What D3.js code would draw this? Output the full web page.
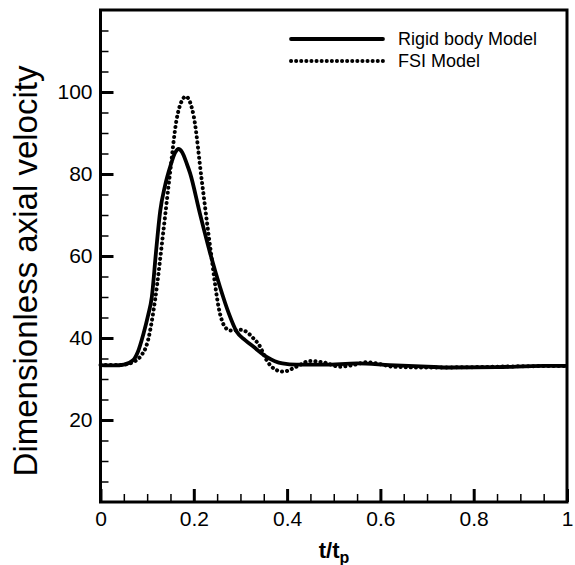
<!DOCTYPE html>
<html>
<head>
<meta charset="utf-8">
<script src="https://cdn.jsdelivr.net/npm/d3@7"></script>
<style>
body { margin: 0; background: #fff; }
text { font-family: "Liberation Sans", Arial, sans-serif; fill: #000; }
</style>
</head>
<body>
<div id="chart"></div>
<script>
// Rigid body model
var rigid_t = [0, 0.03, 0.05, 0.07, 0.08, 0.092, 0.102, 0.11, 0.119, 0.128, 0.138, 0.15, 0.16, 0.167,
               0.175, 0.185, 0.192, 0.213, 0.235, 0.256, 0.275, 0.292, 0.31, 0.3275, 0.356, 0.39,
               0.42, 0.48, 0.55, 0.62, 0.7, 0.75, 0.85, 0.95, 1.0];
var rigid_v = [33.4, 33.3, 33.5, 34.6, 36.6, 41, 45.5, 50, 61, 71, 77, 82, 85.2, 86.1,
               85.3, 82.5, 80.2, 70.4, 60.7, 52.5, 46, 41.5, 39.5, 37.9, 35.4, 33.8,
               33.5, 33.5, 33.8, 33.4, 33.0, 32.8, 32.9, 33.2, 33.2];

// FSI model
var fsi_t = [0, 0.04, 0.063, 0.075, 0.085, 0.102, 0.117, 0.135, 0.149, 0.163, 0.175, 0.183, 0.192, 0.2,
             0.217, 0.235, 0.256, 0.268, 0.28, 0.299, 0.313, 0.327, 0.34, 0.356, 0.375, 0.392, 0.42,
             0.449, 0.48, 0.513, 0.545, 0.571, 0.6, 0.627, 0.7, 0.8, 0.9, 1.0];
var fsi_v = [33.4, 33.4, 33.8, 34.4, 35.4, 39.5, 49.3, 66.3, 80.2, 93.2, 98, 98.9, 97.5, 94,
             78.5, 62.3, 46, 42.5, 41.8, 42, 41.5, 40, 38.3, 34.6, 32.3, 31.8, 33,
             34.4, 34, 33, 33.5, 34.1, 33.6, 33, 32.8, 32.9, 33.1, 33.2];

var series_names = ['Rigid body Model', 'FSI Model'];
var x_ticks = [0, 0.2, 0.4, 0.6, 0.8, 1];
var x_tick_labels = ['0', '0.2', '0.4', '0.6', '0.8', '1'];
var y_ticks = [20, 40, 60, 80, 100];
var y_tick_labels = ['20', '40', '60', '80', '100'];

var chart_width = 575;
var chart_height = 565;
var plot_left = 100.5, plot_right = 567, plot_top = 10, plot_bottom = 502;
var dots = '0.1 5';

var svg = d3.select('#chart')
    .append('svg')
    .attr('width', chart_width)
    .attr('height', chart_height);

var scale_x = d3.scaleLinear().domain([0, 1]).range([plot_left, plot_right]);
var scale_y = d3.scaleLinear().domain([0, 120]).range([plot_bottom, plot_top]);

// minor ticks
var x_minor = d3.range(0.05, 1, 0.05).filter(function(d) {
    return Math.abs(d * 5 - Math.round(d * 5)) > 1e-6;
});
var y_minor = d3.range(5, 120, 5).filter(function(d) { return d % 20 !== 0; });

svg.append('g')
    .attr('class', 'x-minor')
    .attr('transform', 'translate(0,' + plot_bottom + ')')
    .call(d3.axisBottom(scale_x).tickValues(x_minor).tickSize(-8).tickFormat(''));

svg.append('g')
    .attr('class', 'y-minor')
    .attr('transform', 'translate(' + plot_left + ',0)')
    .call(d3.axisLeft(scale_y).tickValues(y_minor).tickSize(-8).tickFormat(''));

// major ticks
svg.append('g')
    .attr('class', 'x-axis')
    .attr('transform', 'translate(0,' + plot_bottom + ')')
    .call(d3.axisBottom(scale_x)
        .tickValues(x_ticks)
        .tickSize(-13)
        .tickPadding(9)
        .tickFormat(function(d, i) { return x_tick_labels[i]; }));

svg.append('g')
    .attr('class', 'y-axis')
    .attr('transform', 'translate(' + plot_left + ',0)')
    .call(d3.axisLeft(scale_y)
        .tickValues(y_ticks)
        .tickSize(-13)
        .tickPadding(8)
        .tickFormat(function(d, i) { return y_tick_labels[i]; }));

svg.selectAll('.domain').remove();
svg.selectAll('.x-minor line, .y-minor line').attr('stroke', '#000').attr('stroke-width', 1.5);
svg.selectAll('.x-axis line, .y-axis line').attr('stroke', '#000').attr('stroke-width', 3);
svg.selectAll('.x-axis text, .y-axis text')
    .style('font-family', '"Liberation Sans", Arial, sans-serif')
    .style('font-size', '21px')
    .attr('fill', '#000');

// frame
svg.append('rect')
    .attr('x', plot_left)
    .attr('y', plot_top)
    .attr('width', plot_right - plot_left)
    .attr('height', plot_bottom - plot_top)
    .attr('fill', 'none')
    .attr('stroke', '#000')
    .attr('stroke-width', 3);

// lines
var line = d3.line()
    .x(function(d) { return scale_x(d[0]); })
    .y(function(d) { return scale_y(d[1]); })
    .curve(d3.curveMonotoneX);

var rigid_data = rigid_t.map(function(t, i) { return [t, rigid_v[i]]; });
var fsi_data = fsi_t.map(function(t, i) { return [t, fsi_v[i]]; });

svg.append('path')
    .datum(fsi_data)
    .attr('d', line)
    .attr('fill', 'none')
    .attr('stroke', '#000')
    .attr('stroke-width', 4)
    .attr('stroke-linecap', 'round')
    .attr('stroke-dasharray', dots);

svg.append('path')
    .datum(rigid_data)
    .attr('d', line)
    .attr('fill', 'none')
    .attr('stroke', '#000')
    .attr('stroke-width', 3.8)
    .attr('stroke-linejoin', 'round');

// legend
var legend = svg.append('g').attr('class', 'legend');
var legend_rows = [
    { name: series_names[0], y: 39, dash: null, w: 3.8 },
    { name: series_names[1], y: 61, dash: dots, w: 4 }
];
legend_rows.forEach(function(r) {
    legend.append('line')
        .attr('x1', 291).attr('x2', 383)
        .attr('y1', r.y).attr('y2', r.y)
        .attr('stroke', '#000')
        .attr('stroke-width', r.w)
        .attr('stroke-linecap', 'round')
        .attr('stroke-dasharray', r.dash);
    legend.append('text')
        .attr('x', 398)
        .attr('y', r.y + 6)
        .style('font-size', '18px')
        .text(r.name);
});

// axis titles
svg.append('text')
    .attr('transform', 'translate(37,' + 271 + ') rotate(-90)')
    .attr('text-anchor', 'middle')
    .style('font-size', '33px')
    .text('Dimensionless axial velocity');

var x_title = svg.append('text')
    .attr('x', 334)
    .attr('y', 558)
    .attr('text-anchor', 'middle')
    .style('font-size', '22px')
    .style('font-weight', 'bold');
x_title.append('tspan').text('t/t');
x_title.append('tspan').attr('dy', 5).style('font-size', '16px').text('p');
</script>
</body>
</html>
